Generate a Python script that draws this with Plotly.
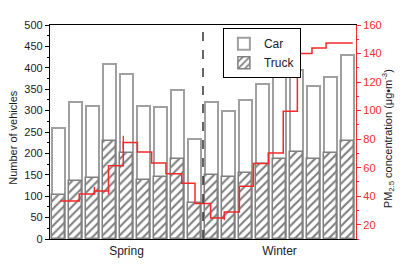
import plotly.graph_objects as go

# ---------------- data ----------------
season_labels = ["Spring", "Winter"]
season_centers = [5, 14]
season_split = 9.5
bar_index = list(range(1, 19))
car_counts = [260, 320, 310, 410, 385, 310, 308, 347, 233,
              320, 300, 325, 362, 389, 395, 358, 378, 430]
truck_counts = [103, 135, 143, 230, 201, 137, 145, 188, 85,
                150, 146, 154, 175, 187, 203, 187, 201, 230]
pm_time = [1.09, 2.22, 3.11, 3.94, 4.81, 5.64, 6.48, 7.32, 8.25, 9.03,
           9.95, 10.75, 11.64, 12.46, 13.34, 14.22, 15.05, 15.91, 16.74, 18.31]
pm_conc = [36.7, 41.5, 43.7, 61.4, 77.6, 71.0, 63.2, 55.7, 49.0, 34.8,
           24.7, 29.0, 47.0, 63.0, 70.3, 99.5, 140.1, 143.8, 147.4, 147.4]
err_time = [3.11, 3.94, 4.81, 10.75]
err_conc = [44.1, 43.7, 77.6, 24.9]
err_sd = [2.4, 2.3, 4.7, 1.7]

FONT = "Arial, Liberation Sans, sans-serif"
RED = "#f42a2a"
TXT = "#1c1c28"
OUT = "#a0a0a0"

fig = go.Figure()
fig.add_trace(go.Bar(
    x=bar_index, y=car_counts, name="Car", width=0.8,
    marker=dict(color="white", line=dict(color=OUT, width=2)),
))
fig.add_trace(go.Bar(
    x=bar_index, y=truck_counts, name="Truck", width=0.8,
    marker=dict(color="white", line=dict(color="#808080", width=1.5),
                pattern=dict(shape="/", fgcolor="#000000", bgcolor="white",
                             size=6, solidity=0.35)),
))
fig.add_trace(go.Scatter(
    x=pm_time, y=pm_conc, yaxis="y2", mode="lines", line_shape="hv",
    line=dict(color=RED, width=1.5), showlegend=False,
))
fig.add_trace(go.Scatter(
    x=err_time, y=err_conc, yaxis="y2", mode="markers",
    marker=dict(size=1, color=RED),
    error_y=dict(type="data", array=err_sd, color=RED, thickness=1.3, width=0),
    showlegend=False,
))

fig.add_shape(type="line", xref="x", yref="paper", x0=season_split, x1=season_split,
              y0=0, y1=1, line=dict(color="black", width=1.2, dash="dash"))

# axis titles as annotations for precise placement
fig.add_annotation(text="Number of vehicles", xref="paper", yref="paper",
                   x=-0.122, y=0.476, textangle=-90, showarrow=False,
                   font=dict(size=11, color=TXT), xanchor="center", yanchor="middle")
fig.add_annotation(text="PM<sub>2.5</sub> concentration (μg•m<sup>-3</sup>)",
                   xref="paper", yref="paper", x=1.105, y=0.467, textangle=-90,
                   showarrow=False, font=dict(size=11, color=TXT),
                   xanchor="center", yanchor="middle")

# page body has an 8px margin: size the figure so the plot area lands where the reference has it
fig.update_layout(
    width=395, height=261,
    margin=dict(l=42, r=47, t=11, b=25),
    paper_bgcolor="white", plot_bgcolor="white",
    barmode="overlay", bargap=0,
    font=dict(family=FONT, size=11, color=TXT),
    showlegend=True,
    legend=dict(x=0.565, y=0.985, xanchor="left", yanchor="top",
                bgcolor="white", bordercolor="black", borderwidth=1,
                font=dict(size=12, color=TXT), tracegroupgap=0,
                itemwidth=30),
    xaxis=dict(range=[0.5, 18.5], tickvals=season_centers, ticktext=season_labels,
               ticks="", ticklen=0, showline=True, linecolor="black", linewidth=1.2,
               mirror=True, showgrid=False, zeroline=False,
               tickfont=dict(size=12, color=TXT)),
    yaxis=dict(range=[0, 500], dtick=50, ticks="outside", ticklen=4,
               tickcolor="black", showline=True, linecolor="black", linewidth=1.2,
               showgrid=False, zeroline=False,
               minor=dict(dtick=25, ticks="outside", ticklen=2, tickcolor="black")),
    yaxis2=dict(range=[10, 160], dtick=20, overlaying="y", side="right",
                ticks="outside", ticklen=4, tickcolor=RED,
                showline=True, linecolor=RED, linewidth=1.2,
                showgrid=False, zeroline=False,
                tickfont=dict(color=RED, size=11),
                minor=dict(dtick=10, ticks="outside", ticklen=2, tickcolor=RED)),
)

fig.write_html("out.html")
